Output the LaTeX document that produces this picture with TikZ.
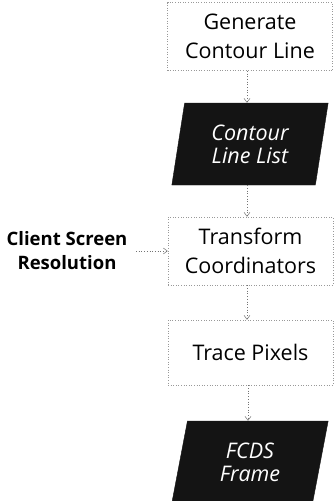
\documentclass[tikz,border=0pt]{standalone}
\usepackage{fontspec}
\setmainfont{Open Sans}
\usetikzlibrary{arrows.meta,shapes.geometric}
\begin{document}
\begin{tikzpicture}[x=1pt,y=-1pt,
  procbox/.style={draw=black!40,dotted,line width=0.6pt,minimum width=165pt,minimum height=68pt,inner sep=0pt,align=center,font=\fontsize{21.5}{28.5}\selectfont},
  databox/.style={trapezium,trapezium left angle=79,trapezium right angle=101,fill=black!92,draw=black!92,minimum width=157pt,minimum height=82pt,inner sep=0pt,align=center,text=white,font=\fontsize{21.5}{23}\selectfont\itshape,trapezium stretches=true},
  flow/.style={draw=black!55,dotted,line width=0.7pt,-{Straight Barb[length=4pt,width=6pt,line width=0.5pt]}},
  sidelabel/.style={align=center,font=\fontsize{18.5}{24}\selectfont\bfseries}]
\useasboundingbox (0,0) rectangle (335,501);
\fill[white] (0,0) rectangle (335,501);
\begin{scope}
\clip (0,0) rectangle (335,501);
\node[procbox] (gen) at (250,36.5) {Generate\\Contour Line};
\node[databox] (cll) at (250,144) {Contour\\Line List};
\node[procbox] (tc) at (250.5,251) {Transform\\Coordinators};
\node[procbox,minimum height=65pt] (tp) at (250.5,352.5) {Trace Pixels};
\node[databox] (fcds) at (250,462) {FCDS\\Frame};
\node[sidelabel] (csr) at (67,251) {Client Screen\\Resolution};
\coordinate (csrE) at (136,251);
\draw[flow] (gen.south -| 247,0) -- (cll.north -| 247,0);
\draw[flow] (cll.south -| 247,0) -- (tc.north -| 247,0);
\draw[flow] (tc.south -| 247,0) -- (tp.north -| 247,0);
\draw[flow] (tp.south -| 248,0) -- (fcds.north -| 248,0);
\draw[flow] (csrE) -- (tc.west);
\end{scope}
\end{tikzpicture}
\end{document}
